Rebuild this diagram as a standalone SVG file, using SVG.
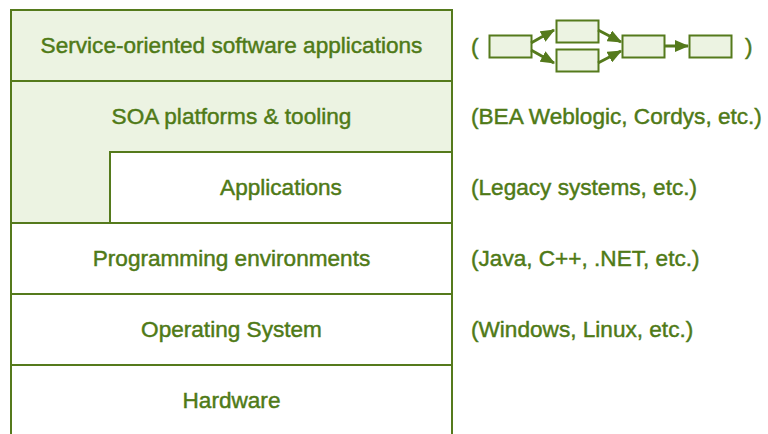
<svg xmlns="http://www.w3.org/2000/svg" width="768" height="434" viewBox="0 0 768 434">
<defs>
<style>
.t{font-family:"Liberation Sans",Arial,sans-serif;font-size:22.6px;fill:#4f7a17;stroke:#4f7a17;stroke-width:0.45px;}
.c{text-anchor:middle;}
.box{stroke:#557a1c;stroke-width:2;}
.g{fill:#ecf3e2;}
.w{fill:#ffffff;}
.e{stroke:#557a1c;stroke-width:3;fill:none;}
</style>
<marker id="ah" viewBox="0 0 12 10" refX="11" refY="5" markerWidth="4.8" markerHeight="4" orient="auto" markerUnits="strokeWidth">
<path d="M0,0 L12,5 L0,10 z" fill="#557a1c"/>
</marker>
</defs>
<rect width="768" height="434" fill="#ffffff"/>
<g id="soa-apps"><rect class="box g" x="11" y="10" width="441" height="71"/><text class="t c" x="231.5" y="53">Service-oriented software applications</text></g>
<g id="soa-platforms"><path class="box g" d="M11,81 H452 V152 H110 V223 H11 Z"/><text class="t c" x="231.5" y="124">SOA platforms &amp; tooling</text></g>
<g id="applications"><rect class="box w" x="110" y="152" width="342" height="71"/><text class="t c" x="281" y="195">Applications</text></g>
<g id="programming"><rect class="box w" x="11" y="223" width="441" height="71"/><text class="t c" x="231.5" y="266">Programming environments</text></g>
<g id="os"><rect class="box w" x="11" y="294" width="441" height="71"/><text class="t c" x="231.5" y="337">Operating System</text></g>
<g id="hardware"><rect class="box w" x="11" y="365" width="441" height="80"/><text class="t c" x="231.5" y="408">Hardware</text></g>
<g id="lbl-platforms"><text class="t" x="471" y="124">(BEA Weblogic, Cordys, etc.)</text></g>
<g id="lbl-legacy"><text class="t" x="471" y="195">(Legacy systems, etc.)</text></g>
<g id="lbl-prog"><text class="t" x="471" y="266">(Java, C++, .NET, etc.)</text></g>
<g id="lbl-os"><text class="t" x="471" y="337">(Windows, Linux, etc.)</text></g>
<g id="lbl-flow">
<text class="t" x="471" y="54">(</text>
<text class="t" x="745" y="54">)</text>
</g>
<g id="m1"><rect class="box g" x="489.5" y="35.5" width="42" height="22" stroke-width="3"/></g>
<g id="m2"><rect class="box g" x="556.5" y="20.5" width="42" height="22" stroke-width="3"/></g>
<g id="m3"><rect class="box g" x="556.5" y="49.5" width="42" height="22" stroke-width="3"/></g>
<g id="m4"><rect class="box g" x="622.5" y="35.5" width="42" height="22" stroke-width="3"/></g>
<g id="m5"><rect class="box g" x="689.5" y="35.5" width="42" height="22" stroke-width="3"/></g>
<g id="connectors">
<path class="e" d="M531,43 L554,30" marker-end="url(#ah)"/>
<path class="e" d="M531,50 L554,63" marker-end="url(#ah)"/>
<path class="e" d="M598,30 L621,42" marker-end="url(#ah)"/>
<path class="e" d="M598,63 L621,51" marker-end="url(#ah)"/>
<path class="e" d="M665,46 L688,46" marker-end="url(#ah)"/>
</g>
</svg>
